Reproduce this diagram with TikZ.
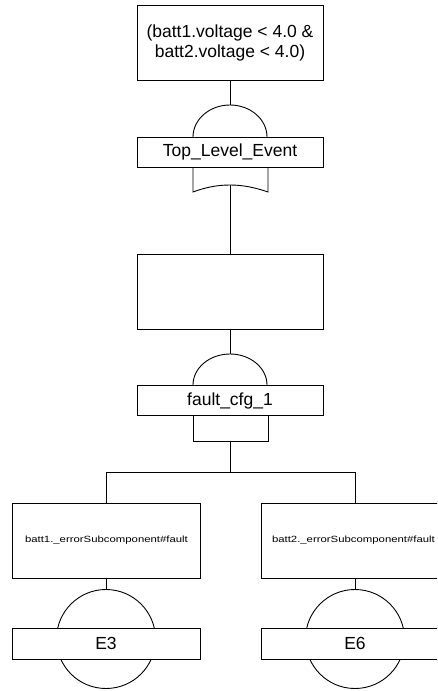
\documentclass[tikz,border=0pt]{standalone}
\usepackage{fontspec}
\setmainfont{Liberation Sans}
\begin{document}
\begin{tikzpicture}[x=1pt,y=-1pt,line width=0.9pt,
  bigfont/.style={font=\fontsize{17.5}{20}\selectfont},
  tallbox/.style={draw,fill=white,bigfont,align=center,inner sep=0pt,
    minimum width=186pt,minimum height=75pt},
  gatebox/.style={draw,fill=white,bigfont,inner sep=0pt,
    minimum width=186pt,minimum height=30pt},
  leafbox/.style={draw,fill=white,inner sep=0pt,
    minimum width=188pt,minimum height=75pt},
  leaflabel/.style={inner sep=0pt,anchor=west},
  eventbox/.style={draw,fill=white,bigfont,inner sep=0pt,
    minimum width=188pt,minimum height=31pt},
  basiccirc/.style={draw,circle,inner sep=0pt,minimum size=99pt}]
\useasboundingbox (0,0) rectangle (437,691);
\clip (0,0) rectangle (437,691);
\newcommand{\leaftext}[1]{\scalebox{1.262}[1]{\fontsize{9}{10}\selectfont #1}}

% top event condition and its AND gate
\node[tallbox] (cond) at (230,42.5) {(batt1.voltage < 4.0 \&\\batt2.voltage < 4.0)};
\coordinate (and1) at (230,105);
\draw (193,137) .. controls (193,119.3) and (209.6,105) .. (and1)
      .. controls (250.4,105) and (267,119.3) .. (267,137);
\node[gatebox] (top) at (230,152) {Top\_Level\_Event};
\draw (cond) -- (and1);

% OR gate under the top event
\coordinate (or1) at (230,185);
\draw (193,167) -- (193,192) .. controls (205,187.5) and (217,185) .. (or1)
      .. controls (243,185) and (255,187.5) .. (268,192) -- (268,167);

% intermediate event
\node[tallbox] (mid) at (230,291.5) {};
\draw (or1) -- (mid);

% AND gate of fault_cfg_1
\coordinate (and2) at (230,354);
\draw (193,385) .. controls (193,367.9) and (209.6,354) .. (and2)
      .. controls (250.4,354) and (267,367.9) .. (267,385);
\node[gatebox] (cfg) at (230,400.5) {fault\_cfg\_1};
\draw (mid) -- (and2);

% gate below fault_cfg_1
\coordinate (rg) at (230,441);
\draw (193,416) -- (193,441) -- (268,441) -- (268,416);
\coordinate (split) at (230,472);

% leaf events
\node[leafbox] (b1) at (106,540.5) {};
\node[leafbox] (b2) at (355,540.5) {};
\node[leaflabel] (t1) at ([xshift=13pt]b1.west) {\leaftext{batt1.\_errorSubcomponent\#fault}};
\node[leaflabel] (t2) at ([xshift=11pt]b2.west) {\leaftext{batt2.\_errorSubcomponent\#fault}};
\draw (rg) -- (split);
\draw (split) -| (b1.north);
\draw (split) -| (b2.north);

\node[basiccirc] (c1) at (106,639) {};
\node[basiccirc] (c2) at (355,639) {};
\draw (b1) -- (c1);
\draw (b2) -- (c2);
\node[eventbox] (e3) at (106,643.5) {E3};
\node[eventbox] (e6) at (355,643.5) {E6};
\end{tikzpicture}
\end{document}
